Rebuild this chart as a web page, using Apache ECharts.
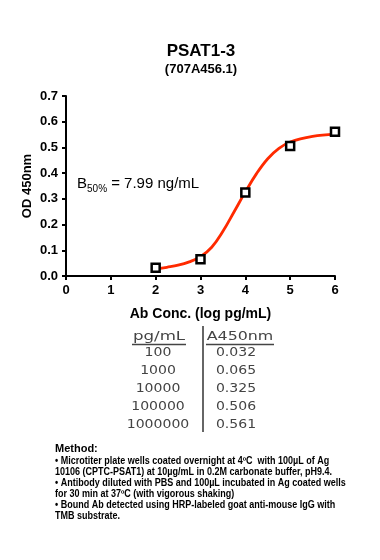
<!DOCTYPE html>
<html>
<head>
<meta charset="utf-8">
<script src="https://cdn.jsdelivr.net/npm/echarts@6/dist/echarts.min.js"></script>
<style>html,body{margin:0;padding:0;background:#fff;}#c{width:380px;height:560px;}</style>
</head>
<body>
<div id="c"></div>
<script>
// Data
var xLog = [2, 3, 4, 5, 6];
var odValues = [0.032, 0.065, 0.325, 0.506, 0.561];
// fitted curve
var curveX = [2, 2.25, 2.5, 2.75, 3, 3.25, 3.5, 3.75, 4, 4.25, 4.5, 4.75, 5, 5.5, 6];
var curveY = [0.027, 0.034, 0.042, 0.055, 0.075, 0.112, 0.174, 0.250, 0.327, 0.398, 0.456, 0.496, 0.521, 0.543, 0.552];
var tableConc = ['100', '1000', '10000', '100000', '1000000'];
var tableA450 = ['0.032', '0.065', '0.325', '0.506', '0.561'];
var methodLines = [
  '\u2022 Microtiter plate wells coated overnight at 4\u00BAC  with 100\u00B5L of Ag',
  '10106 (CPTC-PSAT1) at 10\u00B5g/mL in 0.2M carbonate buffer, pH9.4.',
  '\u2022 Antibody diluted with PBS and 100\u00B5L incubated in Ag coated wells',
  'for 30 min at 37\u00BAC (with vigorous shaking)',
  '\u2022 Bound Ab detected using HRP-labeled goat anti-mouse IgG with',
  'TMB substrate.'
];

var chart = echarts.init(document.getElementById('c'), null, {renderer: 'canvas'});
var F = '"Liberation Sans", Arial, sans-serif';
var T = '"DejaVu Sans", Verdana, sans-serif';

var curveData = curveX.map(function (x, i) { return [x, curveY[i]]; });
var pointData = xLog.map(function (x, i) { return [x, odValues[i]]; });

var graphics = [];
graphics.push({type: 'text', x: 201, y: 51, style: {text: 'PSAT1-3', font: 'bold 17px ' + F, fill: '#000', textAlign: 'center', textVerticalAlign: 'middle'}});
graphics.push({type: 'text', x: 201, y: 69, style: {text: '(707A456.1)', font: 'bold 13px ' + F, fill: '#000', textAlign: 'center', textVerticalAlign: 'middle'}});
graphics.push({type: 'text', x: 77, y: 184, style: {
  text: '{b|B}{s|50%}{b| = 7.99 ng/mL}',
  textVerticalAlign: 'middle',
  rich: {
    b: {font: '15px ' + F, fill: '#000', color: '#000'},
    s: {font: '10px ' + F, fill: '#000', color: '#000', padding: [10, 0, 0, 0]}
  }
}});
// table
var colX1 = 158, colX2 = 236, divX = 203;
graphics.push({type: 'text', x: 159, y: 337, scaleX: 1.28, style: {text: 'pg/mL', font: '13px ' + T, fill: '#444', textAlign: 'center', textVerticalAlign: 'middle'}});
graphics.push({type: 'text', x: 240, y: 337, scaleX: 1.22, style: {text: 'A450nm', font: '13px ' + T, fill: '#444', textAlign: 'center', textVerticalAlign: 'middle'}});
graphics.push({type: 'line', shape: {x1: 132, y1: 344.5, x2: 186, y2: 344.5}, style: {stroke: '#444', lineWidth: 1.3}});
graphics.push({type: 'line', shape: {x1: 206, y1: 344.5, x2: 274, y2: 344.5}, style: {stroke: '#444', lineWidth: 1.3}});
graphics.push({type: 'line', shape: {x1: divX, y1: 326, x2: divX, y2: 432}, style: {stroke: '#666', lineWidth: 2}});
tableConc.forEach(function (t, i) {
  var y = 353 + i * 17.8;
  graphics.push({type: 'text', x: colX1, y: y, scaleX: 1.08, style: {text: t, font: '13px ' + T, fill: '#444', textAlign: 'center', textVerticalAlign: 'middle'}});
  graphics.push({type: 'text', x: colX2, y: y, scaleX: 1.08, style: {text: tableA450[i], font: '13px ' + T, fill: '#444', textAlign: 'center', textVerticalAlign: 'middle'}});
});
// method
graphics.push({type: 'text', x: 55, y: 449, style: {text: 'Method:', font: 'bold 11px ' + F, fill: '#000', textVerticalAlign: 'middle'}});
methodLines.forEach(function (t, i) {
  graphics.push({type: 'text', x: 55, y: 461 + i * 11, scaleX: 0.9, style: {text: t, font: 'bold 10px ' + F, fill: '#000', textVerticalAlign: 'middle'}});
});

chart.setOption({
  animation: false,
  backgroundColor: '#fff',
  grid: {left: 66, right: 45, top: 96, bottom: 284, containLabel: false},
  xAxis: {
    type: 'value', min: 0, max: 6, interval: 1,
    name: 'Ab Conc. (log pg/mL)', nameLocation: 'middle', nameGap: 31,
    nameTextStyle: {fontFamily: F, fontWeight: 'bold', fontSize: 14, color: '#000'},
    axisLine: {show: true, onZero: false, lineStyle: {color: '#000', width: 2}},
    axisTick: {show: true, length: 4, lineStyle: {color: '#000', width: 2}},
    axisLabel: {fontFamily: F, fontWeight: 'bold', fontSize: 13, color: '#000', margin: 8},
    splitLine: {show: false}
  },
  yAxis: {
    type: 'value', min: 0, max: 0.7, interval: 0.1,
    name: 'OD 450nm', nameLocation: 'middle', nameGap: 32, nameRotate: 90,
    nameMoveOverlap: false,
    nameTextStyle: {fontFamily: F, fontWeight: 'bold', fontSize: 13, color: '#000'},
    axisLine: {show: true, lineStyle: {color: '#000', width: 2}},
    axisTick: {show: true, length: 4, lineStyle: {color: '#000', width: 2}},
    axisLabel: {fontFamily: F, fontWeight: 'bold', fontSize: 13, color: '#000', margin: 8,
      formatter: function (v) { return v.toFixed(1); }},
    splitLine: {show: false}
  },
  series: [
    {type: 'line', data: curveData, smooth: 0.4, showSymbol: false, symbol: 'none',
      lineStyle: {color: '#ff2a00', width: 2.8}, z: 2},
    {type: 'scatter', data: pointData, symbol: 'rect', symbolSize: 8,
      itemStyle: {color: '#fff', borderColor: '#000', borderWidth: 2.5, opacity: 1}, z: 3}
  ],
  graphic: graphics
});
</script>
</body>
</html>
